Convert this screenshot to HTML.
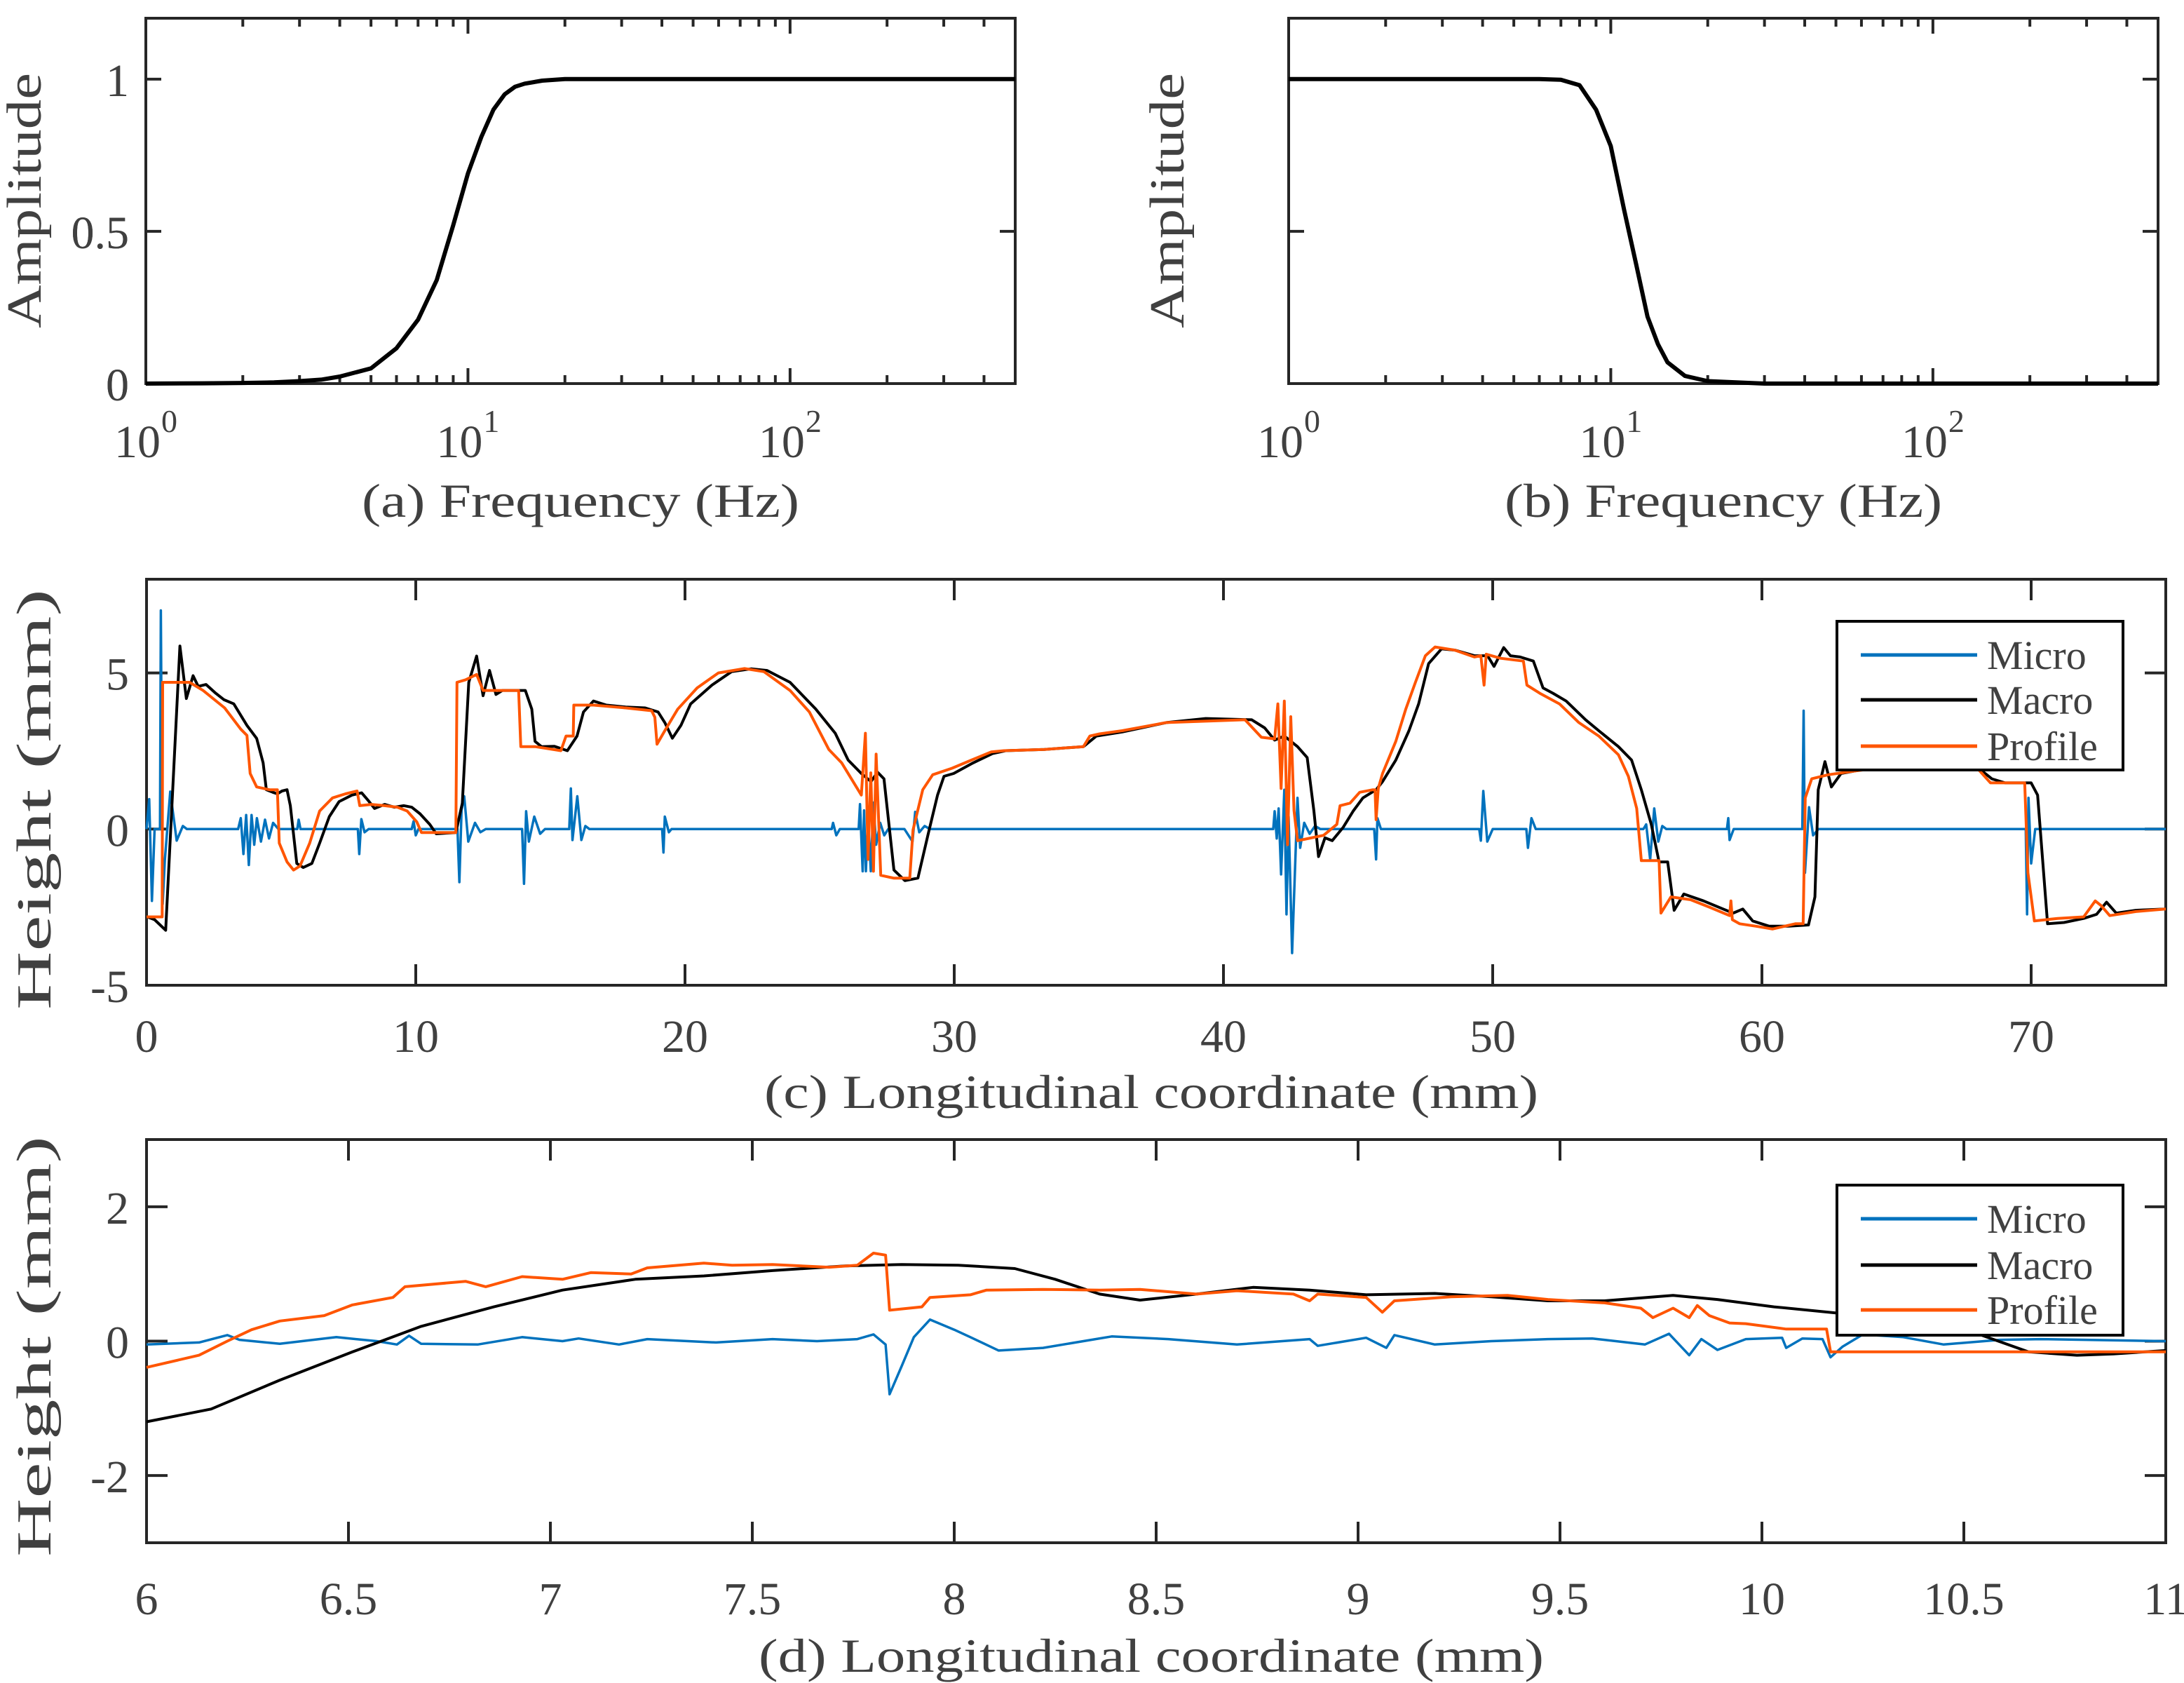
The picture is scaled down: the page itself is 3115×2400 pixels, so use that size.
<!DOCTYPE html>
<html><head><meta charset="utf-8"><style>
html,body{margin:0;padding:0;background:#fff;}
svg{display:block;}
text{font-family:"Liberation Serif",serif;fill:#404040;}
</style></head><body>
<svg id="fig" xmlns="http://www.w3.org/2000/svg" width="3115" height="2400" viewBox="0 0 3115 2400"></svg>
<script>
// ---------- data ----------
const filterFreq = [1,1.5,2,2.5,3,3.5,4,5,6,7,8,9,10,11,12,13,14,15,17,20,30,100,500];
const highpassAmp = [0,0.001,0.002,0.004,0.008,0.013,0.023,0.05,0.116,0.21,0.34,0.52,0.69,0.81,0.9,0.95,0.975,0.985,0.995,1,1,1,1];
const lowpassFreq = [1,2,3,4,5,6,7,8,9,10,11,12,13,14,15,17,20,30,100,500];
const lowpassAmp = [1,1,1,1,1,1,0.998,0.98,0.9,0.78,0.57,0.39,0.22,0.13,0.07,0.025,0.008,0,0,0];

const cMacroX = [0,0.3,0.71,1.24,1.48,1.73,1.92,2.21,2.57,2.88,3.24,3.73,4.09,4.33,4.45,4.69,4.86,5.03,5.22,5.34,5.58,5.82,6.14,6.43,6.79,7.15,7.63,7.99,8.23,8.47,8.84,9.2,9.56,9.85,10.16,10.52,10.76,11.49,11.73,11.97,12.26,12.5,12.74,12.98,13.22,14.07,14.31,14.43,14.67,15.15,15.63,15.99,16.23,16.6,17.08,17.8,18.52,19.0,19.25,19.53,19.85,20.21,21.0,21.73,22.45,23.05,23.9,24.86,25.58,26.06,26.55,26.91,27.15,27.39,27.76,28.17,28.65,29.02,29.38,29.62,29.98,30.7,31.43,31.91,33.35,34.8,35.28,36.24,37.88,39.34,41.05,41.53,41.9,42.26,42.75,43.11,43.36,43.53,43.77,44.04,44.45,44.82,45.18,45.67,45.91,46.4,46.89,47.25,47.62,48.1,48.59,49.32,49.81,50.05,50.41,50.66,51.02,51.51,51.87,52.24,52.73,53.45,53.94,54.67,55.16,55.52,55.89,56.18,56.5,56.74,57.1,57.83,58.56,58.93,59.29,59.66,60.27,61.0,61.73,61.97,62.09,62.34,62.58,62.94,63.43,64.65,66,68.05,68.54,69.03,70.0,70.24,70.61,71.22,71.95,72.43,72.8,73.16,73.89,75];
const cMacroY = [-2.8,-2.9,-3.24,5.86,4.18,4.91,4.57,4.63,4.35,4.14,4.01,3.32,2.9,2.12,1.26,1.18,1.13,1.22,1.26,0.75,-1.1,-1.23,-1.1,-0.45,0.4,0.88,1.09,1.16,0.92,0.66,0.79,0.7,0.75,0.7,0.49,0.15,-0.15,-0.11,0.83,4.7,5.54,4.27,5.08,4.31,4.44,4.44,3.84,2.81,2.64,2.65,2.51,2.98,3.75,4.1,3.97,3.91,3.88,3.75,3.41,2.91,3.32,4.01,4.61,5.04,5.13,5.08,4.7,3.84,3.07,2.21,1.78,1.52,1.82,1.61,-1.31,-1.65,-1.57,-0.2,1.09,1.69,1.78,2.12,2.42,2.51,2.55,2.64,2.98,3.11,3.41,3.54,3.5,3.24,2.85,2.98,2.64,2.29,0.58,-0.88,-0.28,-0.37,0.06,0.58,1.0,1.26,1.52,2.21,3.15,4.01,5.3,5.77,5.73,5.55,5.55,5.21,5.81,5.55,5.51,5.38,4.52,4.35,4.1,3.5,3.15,2.64,2.21,1.26,0.15,-1.05,-1.05,-2.6,-2.08,-2.3,-2.56,-2.69,-2.56,-2.94,-3.11,-3.11,-3.07,-2.17,1.26,2.16,1.35,1.78,1.86,2.04,2.05,1.95,1.61,1.48,1.48,1.09,-3.03,-2.99,-2.86,-2.73,-2.34,-2.69,-2.6,-2.56];

const cProfileX = [0,0.58,0.6,1.6,2.1,2.9,3.5,3.73,3.85,4.09,4.57,4.86,4.93,5.22,5.46,5.7,6.06,6.43,6.91,7.39,7.82,7.92,8.35,8.84,9.32,9.68,10.04,10.21,11.49,11.53,11.85,12.26,12.5,13.22,13.82,13.9,14.43,15.39,15.58,15.85,15.87,16.6,17.8,18.76,18.88,18.96,19.25,19.73,20.45,21.24,22.21,22.93,23.9,24.62,25.34,25.82,26.18,26.55,26.7,26.8,26.9,27.0,27.1,27.27,27.75,28.35,28.47,28.83,29.2,29.92,30.64,31.37,31.85,33.35,34.8,35.04,35.4,36.24,37.88,40.8,41.41,41.9,42.02,42.14,42.26,42.38,42.5,42.62,42.75,42.99,43.72,44.21,44.33,44.7,45.06,45.55,45.63,45.67,45.75,45.91,46.4,46.77,47.13,47.5,47.86,48.59,49.32,49.56,49.68,49.76,50.29,51.14,51.27,51.75,52.48,53.2,53.94,54.67,55.04,55.35,55.52,56.18,56.25,56.62,57.35,58.08,58.8,58.85,58.9,59.17,59.78,60.39,61.24,61.53,61.61,61.85,62.46,63.43,64.65,66,68.05,68.49,69.76,69.88,70.12,70.98,71.95,72.38,72.6,72.92,73.89,75];
const cProfileY = [-2.81,-2.81,4.7,4.7,4.44,3.88,3.2,3.0,1.78,1.35,1.26,1.26,-0.45,-1.05,-1.31,-1.18,-0.45,0.58,1.0,1.13,1.22,0.75,0.79,0.75,0.7,0.58,0.23,-0.11,-0.11,4.7,4.78,4.95,4.44,4.44,4.44,2.64,2.64,2.51,2.98,2.98,3.97,3.97,3.88,3.79,3.58,2.72,3.15,3.84,4.52,5.0,5.14,5.04,4.44,3.75,2.55,2.12,1.61,1.09,3.07,-0.97,1.8,-1.35,2.4,-1.48,-1.57,-1.57,-0.03,1.26,1.74,1.95,2.21,2.47,2.51,2.55,2.64,2.98,3.05,3.15,3.41,3.5,2.94,2.89,4.01,1.3,4.1,-0.5,3.6,0.6,-0.37,-0.33,-0.2,0.15,0.75,0.83,1.18,1.26,1.26,0.3,1.3,1.78,2.81,3.84,4.7,5.55,5.83,5.73,5.51,5.55,4.61,5.6,5.47,5.38,4.61,4.35,4.01,3.41,2.98,2.38,1.69,0.66,-1.01,-1.01,-2.69,-2.17,-2.26,-2.51,-2.77,-2.3,-2.9,-3.03,-3.11,-3.2,-3.03,-3.03,1.0,1.61,1.74,1.86,1.99,2.0,1.9,1.48,1.48,-1.4,-2.94,-2.86,-2.81,-2.3,-2.45,-2.77,-2.64,-2.56];

const cMicroX = [0,0.1,0.2,0.3,0.5,0.53,0.6,0.68,0.88,1.12,1.35,1.5,3.4,3.5,3.6,3.7,3.8,3.9,4.0,4.1,4.25,4.4,4.55,4.7,4.9,5.6,5.65,5.72,7.85,7.9,7.98,8.1,8.25,9.85,9.92,10.0,10.1,11.55,11.62,11.7,11.8,11.95,12.2,12.4,12.6,13.95,14.02,14.1,14.2,14.4,14.62,14.8,15.7,15.76,15.82,16.0,16.15,16.3,16.45,19.15,19.2,19.25,19.4,19.5,25.45,25.5,25.62,25.75,26.45,26.5,26.6,26.65,26.72,26.8,26.9,27.0,27.1,27.25,27.4,27.55,28.15,28.45,28.55,28.7,28.9,29.1,41.85,41.9,41.98,42.05,42.14,42.26,42.34,42.42,42.55,42.65,42.75,42.85,43.0,43.2,43.4,43.6,45.6,45.67,45.72,45.85,49.5,49.56,49.65,49.8,50.0,51.25,51.31,51.44,51.6,55.6,55.7,55.85,56.0,56.15,56.3,56.45,58.7,58.75,58.8,58.95,61.5,61.55,61.6,61.75,61.9,62.1,69.8,69.85,69.9,70.0,70.15,75];
const cMicroY = [0,0.96,-2.3,0,0,7.0,-2.4,-1.0,1.2,-0.37,0.1,0,0,0.35,-0.8,0.45,-1.15,0.45,-0.5,0.35,-0.4,0.3,-0.3,0.2,0,0,0.3,0,0,-0.8,0.32,-0.1,0,0,0.25,-0.2,0,0,-1.7,0.6,1.05,-0.4,0.2,-0.1,0,0,-1.75,0.57,-0.4,0.4,-0.15,0,0,1.3,-0.35,1.05,-0.35,0.1,0,0,-0.75,0.4,-0.1,0,0,0.2,-0.2,0,0,0.8,-1.35,0.6,-1.35,0.4,-1.35,0.85,-0.5,0.2,-0.2,0,0,-0.4,0.55,-0.1,0.1,0,0,0.57,-0.3,0.66,-1.45,1.26,-2.73,0.4,-3.97,-1.45,1.0,-0.6,0.2,-0.15,0.1,0,0,-0.97,0.35,0,0,-0.37,1.22,-0.4,0,0,-0.6,0.35,0,0,0.15,-0.97,0.66,-0.4,0.1,0,0,0.35,-0.35,0,0,3.79,-1.4,0.7,-0.2,0,0,-2.73,1.0,-1.1,0,0];

const dMacroX = [6.0,6.16,6.33,6.51,6.68,6.86,7.03,7.21,7.38,7.55,7.73,7.87,8.01,8.15,8.25,8.36,8.46,8.6,8.74,8.88,9.02,9.19,9.33,9.47,9.61,9.78,9.89,10.03,10.2,10.32,10.52,10.66,10.78,10.87,11];
const dMacroY = [-1.2,-1.01,-0.58,-0.16,0.22,0.51,0.76,0.92,0.97,1.05,1.12,1.14,1.13,1.08,0.92,0.7,0.61,0.7,0.8,0.76,0.69,0.71,0.66,0.6,0.6,0.68,0.62,0.51,0.41,0.33,0.14,-0.16,-0.21,-0.19,-0.14];
const dProfileX = [6.0,6.13,6.2,6.26,6.33,6.44,6.51,6.61,6.64,6.79,6.84,6.93,7.03,7.1,7.2,7.24,7.38,7.45,7.55,7.69,7.76,7.8,7.83,7.84,7.92,7.94,8.04,8.08,8.22,8.36,8.46,8.6,8.7,8.84,8.88,8.9,9.02,9.06,9.09,9.23,9.37,9.47,9.61,9.7,9.73,9.78,9.82,9.84,9.87,9.92,9.96,10.06,10.16,10.17,11];
const dProfileY = [-0.39,-0.21,0.0,0.17,0.3,0.38,0.54,0.65,0.81,0.89,0.81,0.96,0.92,1.02,1.0,1.09,1.16,1.13,1.14,1.1,1.13,1.31,1.28,0.46,0.51,0.65,0.69,0.76,0.77,0.76,0.77,0.7,0.75,0.7,0.6,0.7,0.65,0.43,0.6,0.66,0.68,0.62,0.57,0.49,0.35,0.49,0.35,0.53,0.38,0.27,0.26,0.18,0.18,-0.16,-0.16];
const dMicroX = [6.0,6.13,6.2,6.23,6.33,6.47,6.57,6.62,6.65,6.68,6.82,6.93,7.03,7.07,7.17,7.24,7.41,7.55,7.66,7.76,7.8,7.83,7.84,7.87,7.9,7.94,8.0,8.04,8.11,8.22,8.32,8.39,8.53,8.7,8.88,8.9,9.02,9.07,9.09,9.19,9.33,9.47,9.58,9.71,9.77,9.82,9.85,9.89,9.96,10.05,10.06,10.1,10.15,10.17,10.2,10.25,10.35,10.45,10.59,10.69,11];
const dMicroY = [-0.05,-0.02,0.09,0.02,-0.04,0.06,0.0,-0.05,0.08,-0.04,-0.05,0.06,0.0,0.04,-0.05,0.03,-0.02,0.03,0.0,0.03,0.1,-0.05,-0.79,-0.37,0.06,0.32,0.17,0.06,-0.14,-0.1,0.0,0.07,0.03,-0.05,0.03,-0.07,0.05,-0.1,0.09,-0.05,0.0,0.03,0.04,-0.05,0.11,-0.21,0.03,-0.13,0.03,0.05,-0.1,0.04,0.03,-0.24,-0.08,0.1,0.06,-0.05,0.02,0.03,0.0];

const logTickLabels = ["0","1","2"];
const cXTicks = [0,10,20,30,40,50,60,70];
const cYTicks = [-5,0,5];
const dXTicks = [6,6.5,7,7.5,8,8.5,9,9.5,10,10.5,11];
const dYTicks = [-2,0,2];
const ampTicks = [0,0.5,1];
const legendLabels = ["Micro","Macro","Profile"];
const seriesColors = ["#0072BD","#000000","#FF5500"];

// ---------- helpers ----------
const NS = "http://www.w3.org/2000/svg";
const svg = document.getElementById('fig');
function mk(tag, attrs, parent){
  const e = document.createElementNS(NS, tag);
  for (const k in attrs) e.setAttribute(k, attrs[k]);
  (parent||svg).appendChild(e);
  return e;
}
function linScale(d0,d1,r0,r1){ return v => r0 + (v-d0)/(d1-d0)*(r1-r0); }
function logScale(d0,d1,r0,r1){ return v => r0 + (Math.log10(v)-Math.log10(d0))/(Math.log10(d1)-Math.log10(d0))*(r1-r0); }

function axesFrame(g, L, T, R, B){
  const r = mk('rect',{x:L,y:T,width:R-L,height:B-T,fill:'none',stroke:'#262626','stroke-width':4},g);
  
  
}
function tickLine(g,x1,y1,x2,y2,name){
  const l = mk('line',{x1:x1,y1:y1,x2:x2,y2:y2,stroke:'#262626','stroke-width':4},g);
  
  
}
function label(g, txt, x, y, size, anchor, name, extra){
  const t = mk('text',Object.assign({x:x,y:y,'font-size':size,'text-anchor':anchor||'middle'},extra||{}),g);
  t.textContent = txt;
  
  
  return t;
}
function series(g, xs, ys, sx, sy, color, w, name){
  let d = '';
  for (let i=0;i<xs.length;i++) d += (i?'L':'M') + sx(xs[i]).toFixed(1) + ',' + sy(ys[i]).toFixed(1);
  const p = mk('path',{d:d,fill:'none',stroke:color,'stroke-width':w,'stroke-linejoin':'round'},g);
  
  
}
function legend(g, x, y, w, h, rows){
  const lg = mk('g',{},g);
  
  
  const r = mk('rect',{x:x,y:y,width:w,height:h,fill:'#fff',stroke:'#000','stroke-width':4},lg);
  
  
  for (let i=0;i<legendLabels.length;i++){
    const cy = rows[i];
    const ln = mk('line',{x1:x+34,y1:cy,x2:x+200,y2:cy,stroke:seriesColors[i],'stroke-width':5},lg);
    
    
    label(lg, legendLabels[i], x+214, cy+20, 58, 'start', 'legend-entry-'+legendLabels[i].toLowerCase());
  }
}
const SG = {lengthAdjust:'spacingAndGlyphs'};

// ---------- panels (a) & (b) ----------
function filterPanel(L, xs, ys, letter, name){
  const g = mk('g',{});  
  const T=26, R=L+1240, B=547;
  const sx = logScale(1,500,L,R), sy = linScale(0,1.2,B,T);
  axesFrame(g,L,T,R,B);
  for (let dec=0; dec<3; dec++){
    for (let m=1;m<10;m++){
      const f = m*Math.pow(10,dec); if (f>500) break;
      const len = m===1?22:12;
      tickLine(g,sx(f),B,sx(f),B-len,'x-tick');
      tickLine(g,sx(f),T,sx(f),T+len,'x-tick');
    }
  }
  logTickLabels.forEach((p,i)=>{
    const x = sx(Math.pow(10,i));
    label(g,'10',x+21,652,66,'end','x-tick-label');
    label(g,p,x+22,616,46,'start','x-tick-exponent');
  });
  ampTicks.forEach(v=>{
    tickLine(g,L,sy(v),L+22,sy(v),'y-tick');
    tickLine(g,R,sy(v),R-22,sy(v),'y-tick');
    label(g,String(v),184,sy(v)+24,66,'end','y-tick-label');
  });
  label(g,'('+letter+') Frequency (Hz)',L+620,737,68,'middle','x-axis-title',Object.assign({textLength:624},SG));
  label(g,'Amplitude',0,0,70,'middle','y-axis-title',Object.assign({transform:'translate('+(L-150)+',286) rotate(-90)',textLength:364},SG));
  series(g,xs,ys,sx,sy,'#000',6,'filter-curve');
}
filterPanel(208, filterFreq, highpassAmp, 'a', 'panel-a-highpass');
filterPanel(1838, lowpassFreq, lowpassAmp, 'b', 'panel-b-lowpass');

// ---------- panel (c) ----------
(function(){
  const g = mk('g',{});  
  const L=209,R=3089,T=826,B=1405;
  const sx = linScale(0,75,L,R), sy = linScale(-5,8,B,T);
  axesFrame(g,L,T,R,B);
  cXTicks.forEach(v=>{
    tickLine(g,sx(v),B,sx(v),B-30,'x-tick'); tickLine(g,sx(v),T,sx(v),T+30,'x-tick');
    label(g,String(v),sx(v),1500,66,'middle','x-tick-label');
  });
  cYTicks.forEach(v=>{
    tickLine(g,L,sy(v),L+30,sy(v),'y-tick'); tickLine(g,R,sy(v),R-30,sy(v),'y-tick');
    label(g,String(v),184,sy(v)+24,66,'end','y-tick-label');
  });
  label(g,'(c) Longitudinal coordinate (mm)',1642,1580,68,'middle','x-axis-title',Object.assign({textLength:1104},SG));
  label(g,'Height (mm)',0,0,70,'middle','y-axis-title',Object.assign({transform:'translate(72,1140) rotate(-90)',textLength:600},SG));
  series(g,cMicroX,cMicroY,sx,sy,seriesColors[0],3.5,'micro-line');
  series(g,cMacroX,cMacroY,sx,sy,seriesColors[1],4,'macro-line');
  series(g,cProfileX,cProfileY,sx,sy,seriesColors[2],4,'profile-line');
  legend(g,2620,886,408,212,[934,998,1064]);
})();

// ---------- panel (d) ----------
(function(){
  const g = mk('g',{});  
  const L=209,R=3089,T=1625,B=2200;
  const sx = linScale(6,11,L,R), sy = linScale(-3,3,B,T);
  axesFrame(g,L,T,R,B);
  dXTicks.forEach(v=>{
    tickLine(g,sx(v),B,sx(v),B-30,'x-tick'); tickLine(g,sx(v),T,sx(v),T+30,'x-tick');
    label(g,String(v),sx(v),2302,66,'middle','x-tick-label');
  });
  dYTicks.forEach(v=>{
    tickLine(g,L,sy(v),L+30,sy(v),'y-tick'); tickLine(g,R,sy(v),R-30,sy(v),'y-tick');
    label(g,String(v),184,sy(v)+24,66,'end','y-tick-label');
  });
  label(g,'(d) Longitudinal coordinate (mm)',1642,2384,68,'middle','x-axis-title',Object.assign({textLength:1120},SG));
  label(g,'Height (mm)',0,0,70,'middle','y-axis-title',Object.assign({transform:'translate(72,1920) rotate(-90)',textLength:600},SG));
  series(g,dMicroX,dMicroY,sx,sy,seriesColors[0],3.5,'micro-line');
  series(g,dMacroX,dMacroY,sx,sy,seriesColors[1],4,'macro-line');
  series(g,dProfileX,dProfileY,sx,sy,seriesColors[2],4,'profile-line');
  legend(g,2620,1690,408,214,[1738,1804,1868]);
})();
</script>
</body></html>
